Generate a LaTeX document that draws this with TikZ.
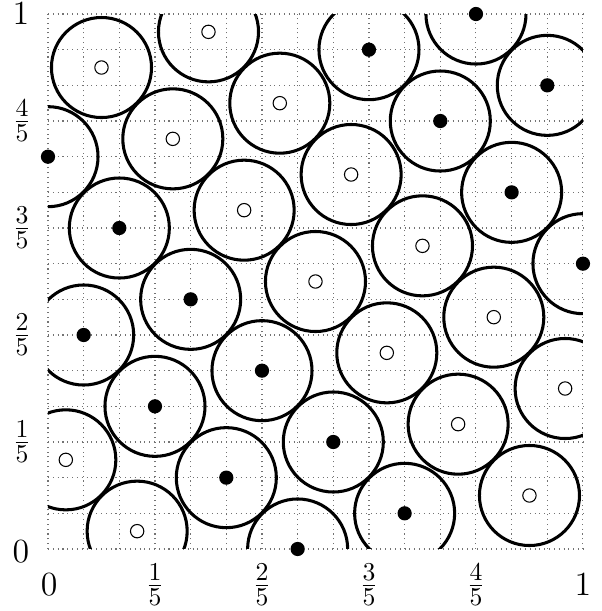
\documentclass[tikz,border=0pt]{standalone}
\begin{document}
\begin{tikzpicture}[x=8cm,y=8cm,
  bigcirc/.style={line width=1.3pt},
  fdot/.style={fill=black},
  odot/.style={draw=black,fill=white,line width=0.45pt},
  gridline/.style={black!55,line width=0.45pt,dash pattern=on 0.45pt off 1.6pt},
  lab/.style={font=\fontsize{15}{18}\selectfont,inner sep=0pt}]
\useasboundingbox (-0.0897,-0.1159) rectangle (1.0355,1.0262);
% dotted grid
\foreach \i in {0,...,15} {
  \draw[gridline] (\i/15,0) -- (\i/15,1);
  \draw[gridline] (0,\i/15) -- (1,\i/15);
}
% big circles, clipped to the unit square
\begin{scope}
  \clip (0,0) rectangle (1,1);
  \foreach \a/\b in {14/0,20/2,10/4,16/6,6/8,12/10,2/12,8/14,30/16,4/18,26/20,0/22,22/24,28/26,18/28,24/30,
                     5/1,27/3,1/5,23/7,29/9,19/11,25/13,15/15,21/17,11/19,17/21,7/23,13/25,3/27,9/29}
    \draw[bigcirc] (\a/30,\b/30) circle[radius=0.0935];
\end{scope}
% filled points
\foreach \a/\b in {14/0,20/2,10/4,16/6,6/8,12/10,2/12,8/14,30/16,4/18,26/20,0/22,22/24,28/26,18/28,24/30}
  \fill[fdot] (\a/30,\b/30) circle[radius=0.0133];
% open points
\foreach \a/\b in {5/1,27/3,1/5,23/7,29/9,19/11,25/13,15/15,21/17,11/19,17/21,7/23,13/25,3/27,9/29}
  \draw[odot] (\a/30,\b/30) circle[radius=0.0125];
% y-axis labels
\node[lab] (y0) at (-0.0505,-0.005) {$0$};
\node[lab] (y1) at (-0.0485,0.2) {$\frac{1}{5}$};
\node[lab] (y2) at (-0.0485,0.4) {$\frac{2}{5}$};
\node[lab] (y3) at (-0.0485,0.6) {$\frac{3}{5}$};
\node[lab] (y4) at (-0.0485,0.8) {$\frac{4}{5}$};
\node[lab] (y5) at (-0.0505,1) {$1$};
% x-axis labels
\node[lab] (x0) at (0.002,-0.067) {$0$};
\node[lab] (x1) at (0.2,-0.067) {$\frac{1}{5}$};
\node[lab] (x2) at (0.4,-0.067) {$\frac{2}{5}$};
\node[lab] (x3) at (0.6,-0.067) {$\frac{3}{5}$};
\node[lab] (x4) at (0.8,-0.067) {$\frac{4}{5}$};
\node[lab] (x5) at (1.0,-0.067) {$1$};
\end{tikzpicture}
\end{document}
